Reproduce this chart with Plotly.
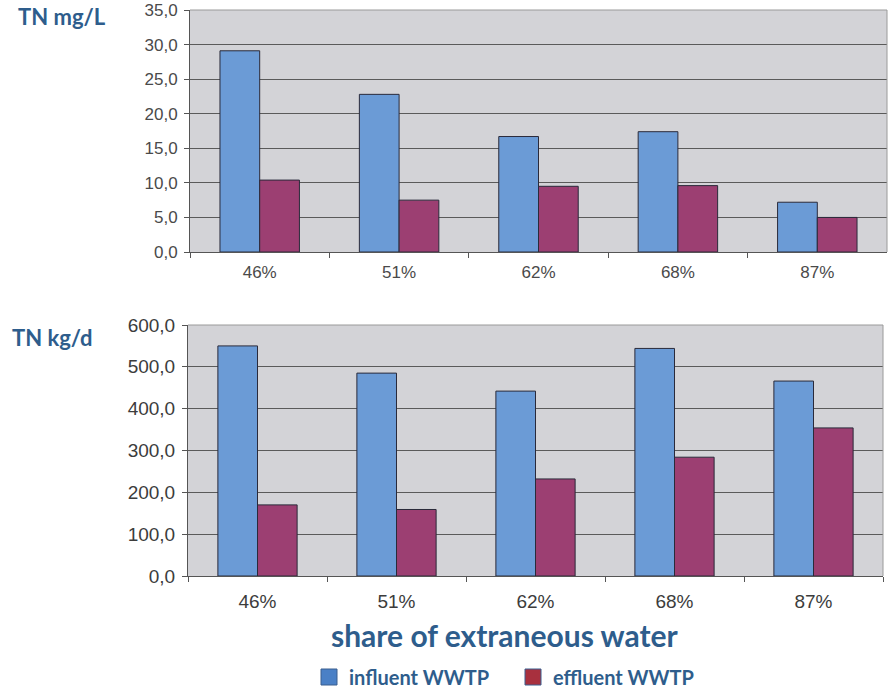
import plotly.graph_objects as go

# Share of extraneous water per sampling campaign
categories = ["46%", "51%", "62%", "68%", "87%"]

# Total nitrogen concentration (mg/L)
conc_influent = [29.1, 22.8, 16.7, 17.4, 7.2]
conc_effluent = [10.4, 7.5, 9.5, 9.6, 5.0]

# Total nitrogen load (kg/d)
load_influent = [550, 485, 442, 544, 466]
load_effluent = [170, 159, 232, 284, 354]

conc_ticks = [0, 5, 10, 15, 20, 25, 30, 35]
load_ticks = [0, 100, 200, 300, 400, 500, 600]

BLUE = "#6b9bd6"
MAGENTA = "#9c3f72"
LEG_BLUE = "#4a80c6"
LEG_RED = "#a8303e"
EDGE = "#2a2a3a"
TITLE_C = "#2e5d8c"

W, H = 889, 692


def py(px):
    return (H - px) / H


def px_x(px):
    return px / W


fig = go.Figure()

bar_common = dict(marker_line_color=EDGE, marker_line_width=1, showlegend=False)
fig.add_trace(go.Bar(x=categories, y=conc_influent, marker_color=BLUE,
                     xaxis="x", yaxis="y", **bar_common))
fig.add_trace(go.Bar(x=categories, y=conc_effluent, marker_color=MAGENTA,
                     xaxis="x", yaxis="y", **bar_common))
fig.add_trace(go.Bar(x=categories, y=load_influent, marker_color=BLUE,
                     xaxis="x2", yaxis="y2", **bar_common))
fig.add_trace(go.Bar(x=categories, y=load_effluent, marker_color=MAGENTA,
                     xaxis="x2", yaxis="y2", **bar_common))

# Legend entries (square swatches, kept out of the bar grouping)
NBSP = "\u00a0"
for name, col in (("influent WWTP" + NBSP * 4, LEG_BLUE), ("effluent WWTP", LEG_RED)):
    fig.add_trace(go.Scatter(x=[None], y=[None], mode="markers", name=name,
                             marker=dict(symbol="square", size=18, color=col,
                                         line=dict(color="#3a5f8f", width=1)),
                             xaxis="x2", yaxis="y2", showlegend=True))


def tick_font(size, color):
    return dict(family="Liberation Sans, Arial, sans-serif", size=size, color=color)


def xaxis_cfg(size, color, standoff):
    return dict(type="category", tickson="boundaries", ticks="outside", ticklen=5,
                tickcolor="#555", showline=True, linecolor="#555", linewidth=1,
                showgrid=False, tickfont=tick_font(size, color),
                ticklabelstandoff=standoff, fixedrange=True, automargin=False)


def yaxis_cfg(size, color):
    return dict(ticks="outside", ticklen=5, tickcolor="#555", showline=True,
                linecolor="#555", linewidth=1, showgrid=True, gridcolor="#5a5a5a",
                gridwidth=1, tickformat=".1f", tickfont=tick_font(size, color),
                zeroline=False, ticklabelstandoff=3, automargin=False)


fig.update_layout(
    width=W, height=H,
    margin=dict(l=0, r=0, t=0, b=0, autoexpand=False),
    paper_bgcolor="white",
    plot_bgcolor="#d3d3d7",
    separators=",.",
    barmode="group",
    bargap=0.43,
    bargroupgap=0,
    xaxis=dict(domain=[px_x(190), px_x(887)], anchor="y", **xaxis_cfg(17, "#4a4a4a", 5)),
    yaxis=dict(domain=[py(252), py(10)], anchor="x", range=[0, 35],
               tickvals=conc_ticks, **yaxis_cfg(17, "#4a4a4a")),
    xaxis2=dict(domain=[px_x(188), px_x(883)], anchor="y2", **xaxis_cfg(19, "#3c3c3c", 8)),
    yaxis2=dict(domain=[py(576), py(325)], anchor="x2", range=[0, 600],
                tickvals=load_ticks, **yaxis_cfg(19, "#3c3c3c")),
    legend=dict(orientation="h", x=px_x(504), xanchor="center", y=py(677), yanchor="middle",
                font=dict(family="Lato, Open Sans, sans-serif", size=20, color=TITLE_C,
                          weight="bold"),
                itemwidth=30, tracegroupgap=0, bgcolor="rgba(0,0,0,0)"),
    font=dict(family="Liberation Sans, Arial, sans-serif"),
)

label_font = dict(family="Lato, Open Sans, sans-serif", size=22, color=TITLE_C)
fig.add_annotation(text="<b>TN mg/L</b>", xref="paper", yref="paper", x=px_x(16), y=py(17),
                   xanchor="left", yanchor="middle", showarrow=False, font=label_font)
fig.add_annotation(text="<b>TN kg/d</b>", xref="paper", yref="paper", x=px_x(10), y=py(337),
                   xanchor="left", yanchor="middle", showarrow=False, font=label_font)
fig.add_annotation(text="<b>share of extraneous water</b>", xref="paper", yref="paper",
                   x=px_x(504), y=py(635), xanchor="center", yanchor="middle",
                   showarrow=False,
                   font=dict(family="Lato, Open Sans, sans-serif", size=30, color=TITLE_C))

# Light frame on the top and right of each plot area
for xr, yr in (("x domain", "y domain"), ("x2 domain", "y2 domain")):
    fig.add_shape(type="line", xref=xr, yref=yr, x0=0, x1=1, y0=1, y1=1,
                  line=dict(color="#9a9a9a", width=1))
    fig.add_shape(type="line", xref=xr, yref=yr, x0=1, x1=1, y0=0, y1=1,
                  line=dict(color="#9a9a9a", width=1))

fig.write_html("out.html")
